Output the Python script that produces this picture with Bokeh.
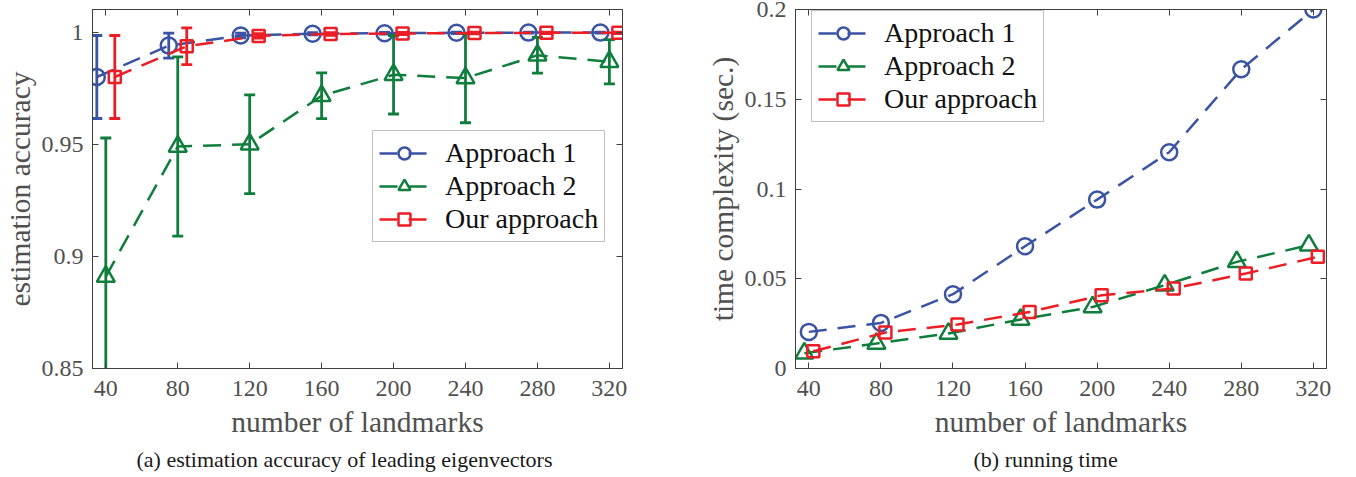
import numpy as np
from bokeh.plotting import figure
from bokeh.layouts import row
from bokeh.models import Range1d, FixedTicker, LinearAxis, Legend, LegendItem, Title, ColumnDataSource
from bokeh.transform import dodge
from bokeh.embed import file_html
from bokeh.resources import INLINE

# ---------------- data ----------------
landmarks = [40, 80, 120, 160, 200, 240, 280, 320]
xtick_labels = ["40", "80", "120", "160", "200", "240", "280", "320"]

# (a) estimation accuracy (mean, error half-width)
acc_approach1 = [0.980, 0.994, 0.9985, 0.9993, 0.9995, 0.9997, 0.9998, 0.9998]
err_approach1 = [0.0185, 0.0056, 0.0010, 0.0005, 0.0004, 0.0003, 0.0002, 0.0002]
acc_approach2 = [0.891, 0.949, 0.950, 0.9716, 0.981, 0.9795, 0.9897, 0.9868]
err_approach2 = [0.0618, 0.040, 0.022, 0.0102, 0.0175, 0.0199, 0.0080, 0.0099]
acc_ours = [0.980, 0.9937, 0.9983, 0.9992, 0.9994, 0.9996, 0.9997, 0.9997]
err_ours = [0.0185, 0.0082, 0.0010, 0.0006, 0.0005, 0.0004, 0.0003, 0.0003]
ytick_acc = [0.85, 0.9, 0.95, 1.0]
ytick_acc_labels = ["0.85", "0.9", "0.95", "1"]

# (b) running time (sec.)
time_approach1 = [0.0204, 0.0254, 0.0414, 0.0681, 0.0941, 0.1205, 0.1667, 0.2000]
time_approach2 = [0.0085, 0.0139, 0.0195, 0.0273, 0.0343, 0.0464, 0.0594, 0.0687]
time_ours = [0.0096, 0.0201, 0.0245, 0.0315, 0.0408, 0.0446, 0.0529, 0.0622]
ytick_time = [0.0, 0.05, 0.1, 0.15, 0.2]
ytick_time_labels = ["0", "0.05", "0.1", "0.15", "0.2"]

series_names = ["Approach 1", "Approach 2", "Our approach"]

# ---------------- style ----------------
BLUE = "#3A53A4"
GREEN = "#0F7D3C"
RED = "#EC1D25"
FONT = "'Liberation Serif', 'DejaVu Serif', serif"
AXIS_GRAY = "#404040"
TEXT_GRAY = "#505050"
DASH = "18 11"
LW = 2.5


def make_fig(y_lo, y_hi, yticks, ylabels, ylabel, border_left, border_right, caption, cap_offset):
    p = figure(width=678, height=477, output_backend="svg", toolbar_location=None,
               x_range=Range1d(32.6, 327.3), y_range=Range1d(y_lo, y_hi),
               min_border_left=border_left, min_border_right=border_right,
               min_border_top=9, min_border_bottom=109,
               x_axis_location=None, y_axis_location=None)
    p.grid.visible = False
    p.outline_line_color = AXIS_GRAY
    p.outline_line_width = 1
    p.background_fill_color = "white"
    p.border_fill_color = "white"

    xover = {float(v): s for v, s in zip(landmarks, xtick_labels)}
    yover = {float(v): s for v, s in zip(yticks, ylabels)}

    def style(ax, show):
        ax.major_tick_in = 6
        ax.major_tick_out = 0
        ax.minor_tick_line_color = None
        ax.major_tick_line_color = AXIS_GRAY
        ax.major_tick_line_width = 1
        ax.axis_line_color = AXIS_GRAY
        if show:
            ax.major_label_text_font = FONT
            ax.major_label_text_font_size = "24px"
            ax.major_label_text_color = TEXT_GRAY
            ax.axis_label_text_font = FONT
            ax.axis_label_text_font_size = "29.5px"
            ax.axis_label_text_font_style = "normal"
            ax.axis_label_text_color = TEXT_GRAY
        else:
            ax.major_label_text_font_size = "1px"
            ax.major_label_text_color = None
            ax.major_label_standoff = 0

    xb = LinearAxis(ticker=FixedTicker(ticks=landmarks), major_label_overrides=xover,
                    axis_label="number of landmarks")
    style(xb, True)
    xb.major_label_standoff = 12
    xb.axis_label_standoff = 7
    p.add_layout(xb, "below")
    yl = LinearAxis(ticker=FixedTicker(ticks=yticks), major_label_overrides=yover, axis_label=ylabel)
    style(yl, True)
    yl.major_label_standoff = 9
    yl.axis_label_standoff = 3
    p.add_layout(yl, "left")
    xt = LinearAxis(ticker=FixedTicker(ticks=landmarks))
    style(xt, False)
    p.add_layout(xt, "above")
    yr = LinearAxis(ticker=FixedTicker(ticks=yticks))
    style(yr, False)
    p.add_layout(yr, "right")

    t = Title(text=caption, text_font=FONT, text_font_size="22px", text_font_style="normal",
              text_color="#1A1A1A", align="left", offset=cap_offset, standoff=9)
    p.add_layout(t, "below")
    return p


# ---------------- (a) ----------------
pa = make_fig(0.85, 1.0101, ytick_acc, ytick_acc_labels, "estimation accuracy", 91, 56,
              "(a)  estimation accuracy of leading eigenvectors", 44)

acc_series = [
    (acc_approach1, err_approach1, BLUE, "circle", -5),
    (acc_approach2, err_approach2, GREEN, "triangle", 0),
    (acc_ours, err_ours, RED, "square", 5),
]
items_a = []
for (vals, errs, col, mk, off), name in zip(acc_series, series_names):
    src = ColumnDataSource(dict(
        x=landmarks, y=vals,
        lo=[v - e for v, e in zip(vals, errs)],
        hi=[v + e for v, e in zip(vals, errs)],
    ))
    xd = dodge("x", off, range=pa.x_range)
    ln = pa.line(x=xd, y="y", source=src, line_color=col, line_width=LW, line_dash=DASH)
    pa.segment(x0=xd, y0="lo", x1=xd, y1="hi", source=src, line_color=col, line_width=2.8)
    pa.scatter(x=xd, y="lo", source=src, marker="dash", size=11, line_color=col, line_width=2.8)
    pa.scatter(x=xd, y="hi", source=src, marker="dash", size=11, line_color=col, line_width=2.8)
    size = 16 if mk == "circle" else (18 if mk == "triangle" else 12)
    mr = pa.scatter(x=xd, y="y", source=src, marker=mk, size=size, line_color=col,
                    line_width=LW, fill_color=None)
    eb = pa.scatter(x=[], y=[], marker="dash", angle=np.pi / 2, size=12,
                    line_color=col, line_width=2.8)
    items_a.append(LegendItem(label=name, renderers=[ln, eb, mr]))

leg_a = Legend(items=items_a, location=(280, 126))
pa.add_layout(leg_a, "center")

# ---------------- (b) ----------------
pb = make_fig(0.0, 0.2, ytick_time, ytick_time_labels, "time complexity (sec.)", 117, 30,
              "(b)  running time", 178)
time_series = [
    (time_approach1, BLUE, "circle", 0),
    (time_approach2, GREEN, "triangle", -2.5),
    (time_ours, RED, "square", 2.5),
]
items_b = []
for (vals, col, mk, off), name in zip(time_series, series_names):
    src = ColumnDataSource(dict(x=landmarks, y=vals))
    xd = dodge("x", off, range=pb.x_range)
    ln = pb.line(x=xd, y="y", source=src, line_color=col, line_width=LW, line_dash=DASH)
    size = 16 if mk == "circle" else (18 if mk == "triangle" else 12)
    mr = pb.scatter(x=xd, y="y", source=src, marker=mk, size=size, line_color=col,
                    line_width=LW, fill_color=None)
    items_b.append(LegendItem(label=name, renderers=[ln, mr]))

leg_b = Legend(items=items_b, location=(16, 246))
pb.add_layout(leg_b, "center")

for lg in (leg_a, leg_b):
    lg.label_text_font = FONT
    lg.label_text_font_size = "28px"
    lg.label_text_color = "#111111"
    lg.glyph_width = 50
    lg.glyph_height = 30
    lg.label_height = 30
    lg.label_standoff = 16
    lg.spacing = 1
    lg.padding = 6
    lg.margin = 0
    lg.border_line_color = "#7F7F7F"
    lg.border_line_width = 1
    lg.background_fill_color = "white"
    lg.background_fill_alpha = 1.0

layout = row(pa, pb)
open("out.html", "w").write(file_html(layout, INLINE))
